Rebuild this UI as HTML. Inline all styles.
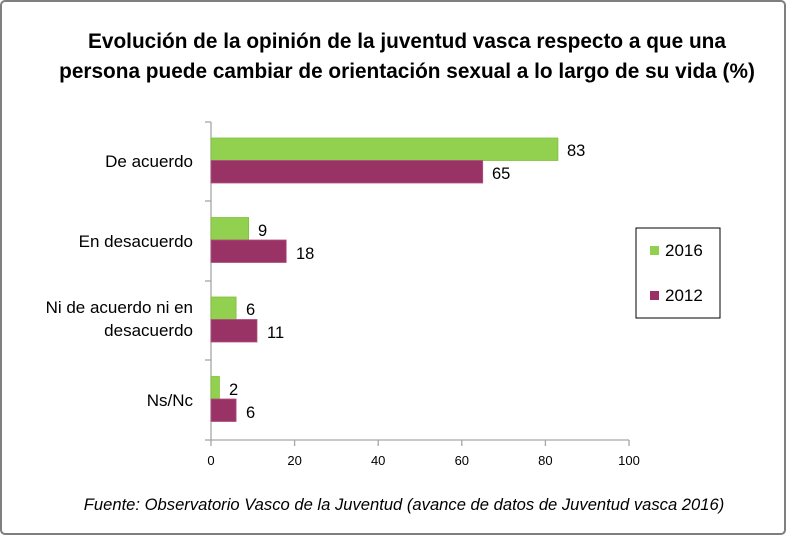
<!DOCTYPE html>
<html><head><meta charset="utf-8"><style>
html,body{margin:0;padding:0;background:#fff}
svg{display:block}
text{font-family:"Liberation Sans",sans-serif;fill:#000}
</style></head><body>
<svg width="786" height="535" viewBox="0 0 786 535" xmlns="http://www.w3.org/2000/svg">
<rect x="1" y="1" width="784" height="533" rx="4" fill="#fff" stroke="#7f7f7f" stroke-width="2"/>
<text x="407" y="48" font-size="20.8" font-weight="bold" text-anchor="middle">Evolución de la opinión de la juventud vasca respecto a que una</text>
<text x="407" y="78" font-size="20.8" font-weight="bold" text-anchor="middle">persona puede cambiar de orientación sexual a lo largo de su vida (%)</text>
<g stroke="#a6a6a6" stroke-width="1.3">
<line x1="211" y1="122" x2="211" y2="440"/>
<line x1="211" y1="440" x2="629" y2="440"/>
<line x1="205" y1="122" x2="211" y2="122"/>
<line x1="205" y1="201" x2="211" y2="201"/>
<line x1="205" y1="281" x2="211" y2="281"/>
<line x1="205" y1="360" x2="211" y2="360"/>
<line x1="205" y1="440" x2="211" y2="440"/>
<line x1="211" y1="440" x2="211" y2="446"/>
<line x1="294.6" y1="440" x2="294.6" y2="446"/>
<line x1="378.2" y1="440" x2="378.2" y2="446"/>
<line x1="461.8" y1="440" x2="461.8" y2="446"/>
<line x1="545.4" y1="440" x2="545.4" y2="446"/>
<line x1="629" y1="440" x2="629" y2="446"/>
</g>
<g font-size="13" text-anchor="middle">
<text x="211" y="465">0</text><text x="294.6" y="465">20</text><text x="378.2" y="465">40</text>
<text x="461.8" y="465">60</text><text x="545.4" y="465">80</text><text x="629" y="465">100</text>
</g>
<g fill="#92d050" stroke="#7fc03c" stroke-width="0.8">
<rect x="211" y="138" width="346.9" height="22.5"/>
<rect x="211" y="217.5" width="37.6" height="22.5"/>
<rect x="211" y="297" width="25.1" height="22.5"/>
<rect x="211" y="376.5" width="8.4" height="22.5"/>
</g>
<g fill="#993366" stroke="#b05080" stroke-width="0.8">
<rect x="211" y="160.5" width="271.7" height="22.5"/>
<rect x="211" y="240" width="75.2" height="22.5"/>
<rect x="211" y="319.5" width="46" height="22.5"/>
<rect x="211" y="399" width="25.1" height="22.5"/>
</g>
<g font-size="16.5">
<text x="567" y="156">83</text><text x="492" y="179">65</text>
<text x="258" y="236">9</text><text x="296" y="259">18</text>
<text x="246" y="315">6</text><text x="267" y="338">11</text>
<text x="229" y="395">2</text><text x="246" y="418">6</text>
</g>
<g font-size="17" text-anchor="end">
<text x="193" y="167">De acuerdo</text>
<text x="193" y="247">En desacuerdo</text>
<text x="193" y="313">Ni de acuerdo ni en</text>
<text x="193" y="336">desacuerdo</text>
<text x="193" y="406">Ns/Nc</text>
</g>
<rect x="636" y="228" width="84" height="90" fill="#fff" stroke="#000" stroke-width="1"/>
<rect x="650" y="246" width="9" height="9" fill="#92d050"/>
<text x="665" y="256" font-size="17">2016</text>
<rect x="650" y="291" width="9" height="9" fill="#993366"/>
<text x="665" y="301" font-size="17">2012</text>
<text x="404" y="510" font-size="16.6" font-style="italic" text-anchor="middle">Fuente: Observatorio Vasco de la Juventud (avance de datos de Juventud vasca 2016)</text>
</svg>
</body></html>
